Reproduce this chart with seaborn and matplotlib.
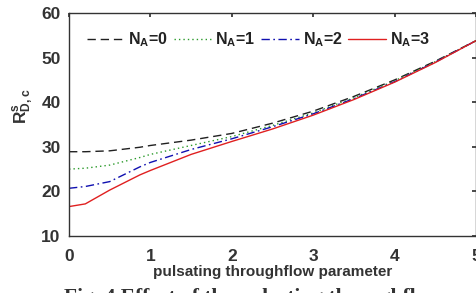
import matplotlib
matplotlib.use("Agg")
import matplotlib.pyplot as plt
import seaborn as sns
import pandas as pd

x_vals = [0, 0.2, 0.5, 0.87, 1.0, 1.5, 2.0, 2.5, 3.0, 3.5, 4.0, 4.5, 5.0]
na0 = [28.9, 28.9, 29.1, 29.9, 30.3, 31.5, 33.0, 35.3, 38.0, 41.3, 45.0, 49.2, 53.8]
na1 = [25.0, 25.2, 25.9, 27.6, 28.3, 30.3, 32.3, 34.8, 37.6, 41.0, 44.8, 49.1, 53.8]
na2 = [20.7, 21.1, 22.2, 25.5, 26.5, 29.4, 31.8, 34.5, 37.4, 40.8, 44.6, 49.0, 53.8]
na3 = [16.6, 17.2, 20.3, 23.7, 24.7, 28.3, 31.2, 34.0, 37.1, 40.6, 44.5, 48.9, 53.8]
labels = ["N$_\\mathbf{A}$=0", "N$_\\mathbf{A}$=1", "N$_\\mathbf{A}$=2", "N$_\\mathbf{A}$=3"]
x_ticks = [0, 1, 2, 3, 4, 5]
y_ticks = [10, 20, 30, 40, 50, 60]

sns.set_theme(style="white")
plt.rcParams['font.family'] = ['Liberation Sans', 'DejaVu Sans']
plt.rcParams['font.weight'] = 'bold'
plt.rcParams['mathtext.fontset'] = 'custom'
plt.rcParams['mathtext.rm'] = 'Liberation Sans:bold'
plt.rcParams['mathtext.bf'] = 'Liberation Sans:bold'
plt.rcParams['mathtext.it'] = 'Liberation Sans:bold'
plt.rcParams['mathtext.default'] = 'bf'

fig = plt.figure(figsize=(4.77, 2.93), dpi=100)
ax = fig.add_axes([0.1447, 0.1945, 0.8533, 0.7611])

series = [na0, na1, na2, na3]
colors = ["#202020", "#2a9a2a", "#1010b0", "#e02020"]
styles = [(0, (6, 3.5)), (0, (1, 2.2)), (0, (6, 2.5, 1.2, 2.5)), "-"]
for vals, lab, c, ls in zip(series, labels, colors, styles):
    df = pd.DataFrame({"x": x_vals, "y": vals})
    sns.lineplot(data=df, x="x", y="y", ax=ax, color=c, linestyle=ls,
                 linewidth=1.0, label=lab)

ax.set_xlim(0, 5)
ax.set_ylim(10, 60)
ax.set_xticks(x_ticks)
ax.set_yticks(y_ticks)
ax.tick_params(direction="in", length=3, top=True, right=True,
               labelsize=12.5, colors="#333333")
ax.tick_params(axis="x", pad=9)
ax.tick_params(axis="y", pad=6)
for lbl in ax.get_xticklabels() + ax.get_yticklabels():
    lbl.set_fontweight("bold")
for s in ax.spines.values():
    s.set_color("#333333")
    s.set_linewidth(1.0)
ax.set_xlabel("pulsating throughflow parameter", fontsize=11,
              fontweight="bold", color="#333333", labelpad=1)
ax.set_ylabel("R$^\\mathbf{s}_\\mathbf{D,c}$", fontsize=12.5,
              fontweight="bold", color="#333333", labelpad=2)
ax.yaxis.set_label_coords(-0.08, 0.58)

leg = ax.legend(loc="upper center", bbox_to_anchor=(0.465, 0.985), ncol=4,
                frameon=False, handlelength=2.4, columnspacing=0.35,
                handletextpad=0.2, prop={"size": 11.5, "weight": "bold"})
for t in leg.get_texts():
    t.set_color("#222222")

fig.text(0.53, -0.05, "Fig. 4 Effect of the pulsating throughflow",
         ha="center", va="bottom", fontsize=15.5, fontweight="bold",
         family=["Liberation Serif", "DejaVu Serif"], color="#333333")

fig.savefig("out.png", dpi=100)
